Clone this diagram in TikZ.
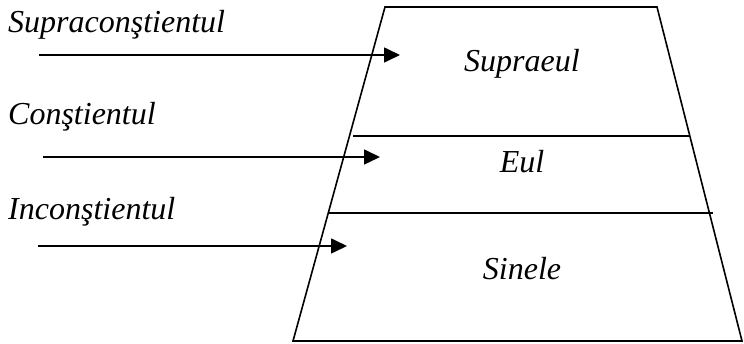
\documentclass[tikz,border=0pt]{standalone}
\usepackage{fontspec}
\setmainfont{Liberation Serif}
\usetikzlibrary{arrows.meta}

\tikzset{
	levelname/.style={font=\fontsize{32}{36}\selectfont\itshape, inner sep=0pt},
	layer/.style={line width=1.6pt},
	pointer/.style={line width=1.6pt, -{Triangle[length=16pt, width=15pt]}}
}

\begin{document}
\begin{tikzpicture}[x=1pt, y=-1pt]
		\useasboundingbox (0, 0) rectangle (744, 344);
		
		% trunchiul de piramida
		\path[draw, layer] (385, 7) -- (657, 7) -- (742, 341) -- (293, 341) -- cycle;
		\path[draw, layer] (353, 136) -- (690, 136);
		\path[draw, layer] (329, 213) -- (713, 213);
		
		\node[levelname, anchor=base west] (supracon) at (8, 33) {Supraconştientul};
		\node[levelname, anchor=base west] (con) at (8, 125) {Conştientul};
		\node[levelname, anchor=base west] (incon) at (8, 220) {Inconştientul};
		
		\node[levelname, anchor=base] (supraeul) at (522, 72) {Supraeul};
		\node[levelname, anchor=base] (eul) at (522, 173) {Eul};
		\node[levelname, anchor=base] (sinele) at (522, 280) {Sinele};
		
		\coordinate (s1) at (39, 55);
		\coordinate (t1) at (400, 55);
		\coordinate (s2) at (43, 157);
		\coordinate (t2) at (380, 157);
		\coordinate (s3) at (38, 246);
		\coordinate (t3) at (347, 246);
		
		\path[pointer] (s1) edge (t1);
		\path[pointer] (s2) edge (t2);
		\path[pointer] (s3) edge (t3);
	\end{tikzpicture}
\end{document}
